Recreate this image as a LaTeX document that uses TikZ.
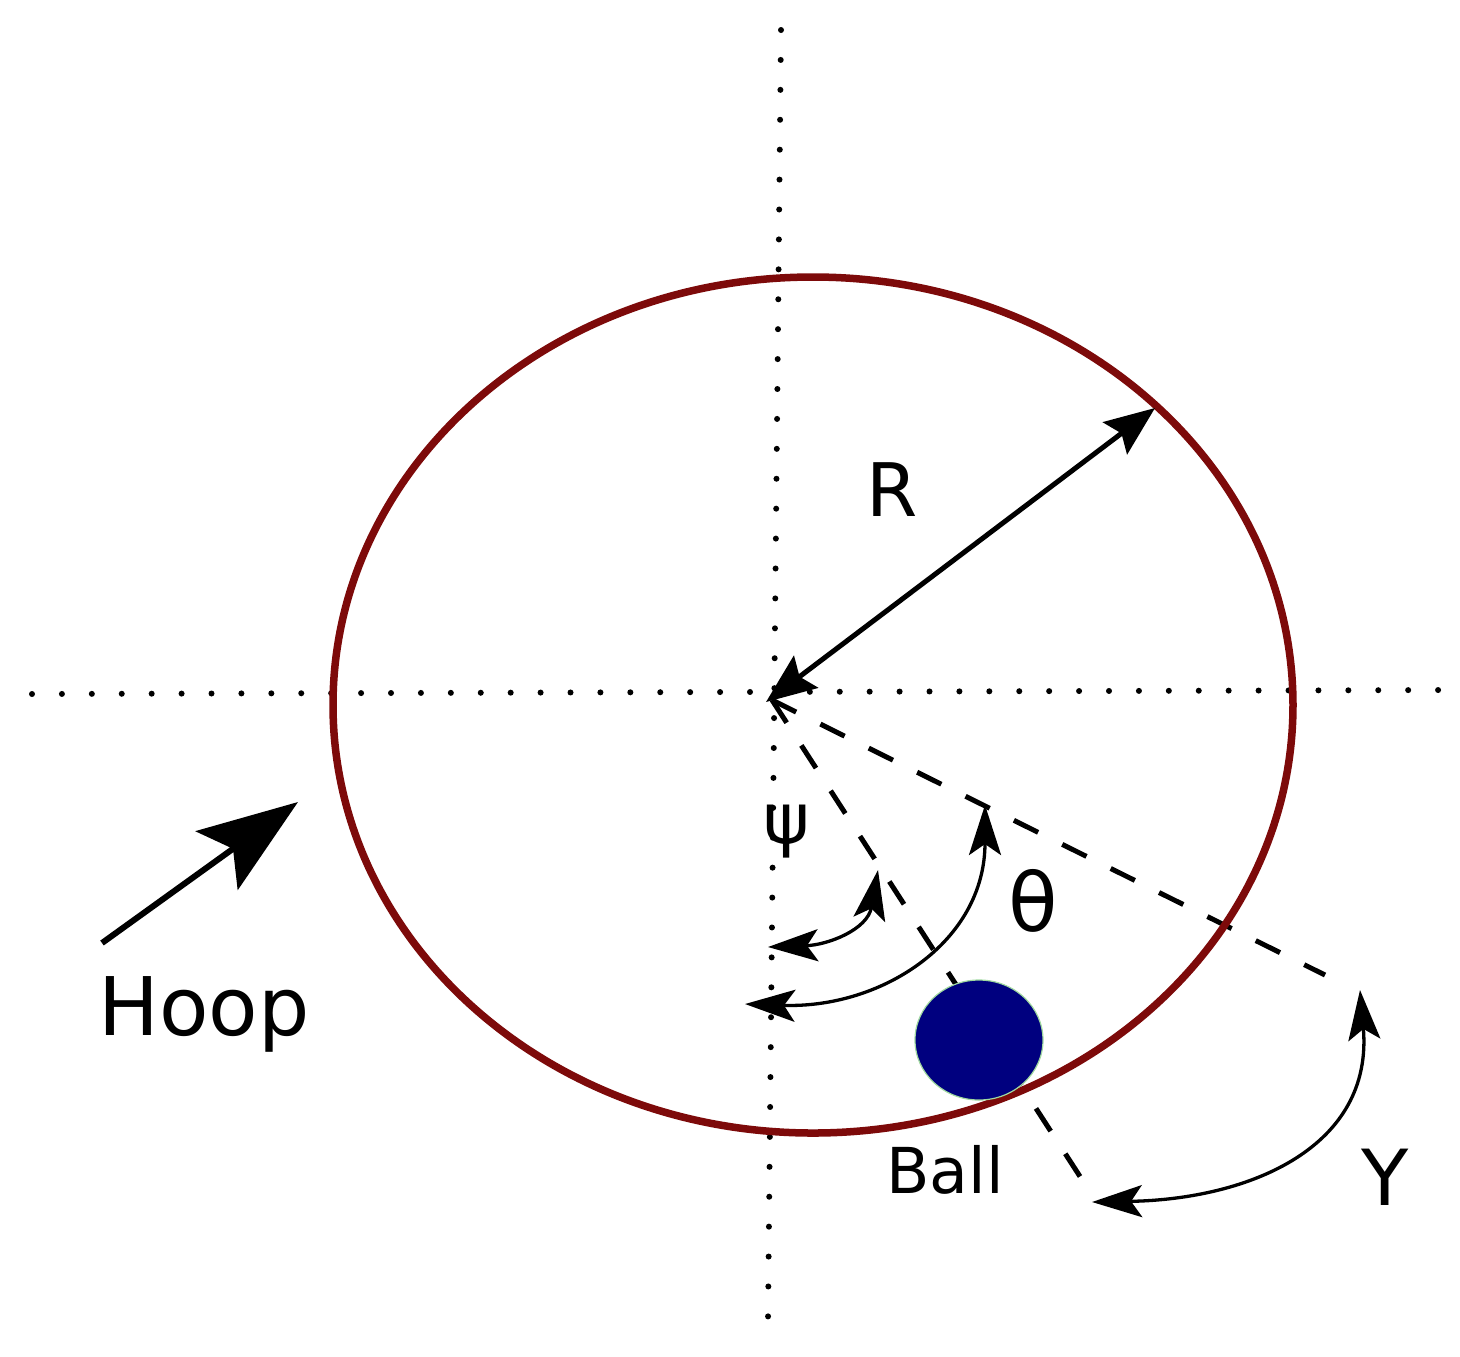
\documentclass[tikz,border=0pt]{standalone}
\usepackage{fontspec}
\setmainfont{DejaVu Sans}
\usetikzlibrary{arrows.meta}
\definecolor{hoopred}{HTML}{7D0A0A}
\definecolor{ballblue}{HTML}{00007F}
\definecolor{ballrim}{HTML}{9FD89F}
\tikzset{
  axisline/.style={line width=0.06cm,line cap=round,dash pattern=on 0pt off 0.299cm},
  radial/.style={line width=0.05cm,dash pattern=on 0.27cm off 0.27cm},
  angleline/.style={line width=0.033cm,<->,>={Stealth[length=0.5cm,width=0.32cm,inset=0.11cm]}},
  label/.style={inner sep=0pt,anchor=center}
}
\begin{document}
\begin{tikzpicture}[x=0.01cm,y=-0.01cm,>=stealth]
  \useasboundingbox (0,0) rectangle (1460,1356);
  \coordinate (centre) at (772,700);
  \coordinate (rim) at (1155,408);
  \coordinate (tipcentre) at (766,702);
  \coordinate (thetaend) at (1325,975);
  \coordinate (psiend) at (1081,1178);
  % axes
  \coordinate (top) at (781,30);
  \coordinate (bottom) at (768,1320);
  \coordinate (left) at (32,694);
  \coordinate (right) at (1442,690);
  \draw[axisline] (top) -- (bottom);
  \draw[axisline] (left) -- (right);
  % hoop and ball
  \draw[radial] (centre) -- (thetaend);
  \draw[radial] (centre) -- (psiend);
  \draw[hoopred,line width=0.075cm] (813,705) ellipse (480 and 428);
  \fill[ballblue,draw=ballrim,line width=0.012cm] (979,1040) ellipse (64 and 60);
  % radius
  \draw[line width=0.05cm,<->,>={Stealth[length=0.5cm,width=0.4cm,inset=0.08cm]}] (rim) -- (tipcentre);
  \node[label,font=\fontsize{21}{21}\selectfont] (rlabel) at (892,490) {R};
  % angles
  \coordinate (psia) at (878,870);
  \coordinate (psib) at (768,947);
  \coordinate (thetaa) at (985,805);
  \coordinate (thetab) at (745,1004);
  \coordinate (gammaa) at (1360,990);
  \coordinate (gammab) at (1092,1202);
  \draw[angleline] (psia) to [out=-100,in=2,looseness=1.15] (psib);
  \draw[angleline] (thetaa) to [out=-90,in=-2,looseness=1.12] (thetab);
  \draw[angleline] (gammaa) to [out=-85,in=1,looseness=1.18] (gammab);
  \node[label,font=\fontsize{20}{20}\selectfont] (psilabel) at (787,832) {ψ};
  \node[label,font=\fontsize{23}{23}\selectfont] (thetalabel) at (1033,901) {θ};
  \node[label,font=\fontsize{22}{22}\selectfont] (gammalabel) at (1385,1177) {Y};
  % names
  \node[label,font=\fontsize{18}{18}\selectfont] (balllabel) at (945,1170) {Ball};
  \node[label,font=\fontsize{23}{23}\selectfont] (hooplabel) at (204,1014) {Hoop};
  \coordinate (hoopfrom) at (102,943);
  \coordinate (hoopto) at (298,802);
  \draw[line width=0.06cm,->,>={Stealth[length=1cm,width=0.72cm,inset=0.2cm]}] (hoopfrom) -- (hoopto);
\end{tikzpicture}
\end{document}
